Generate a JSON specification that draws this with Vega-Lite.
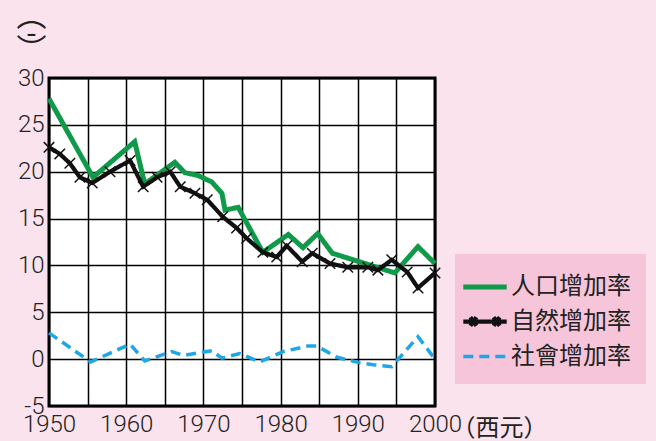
{
  "$schema": "https://vega.github.io/schema/vega-lite/v6.json",
  "width": 386,
  "height": 328,
  "autosize": "none",
  "padding": {"left": 49, "top": 78, "right": 221, "bottom": 35},
  "background": "#fae3ec",
  "config": {
    "view": {"stroke": "black", "strokeWidth": 3, "fill": "white"},
    "font": "Roboto"
  },
  "datasets": {
    "rates": [
      {"year": 1950, "value": 27.8, "series": "人口增加率"},
      {"year": 1955.7, "value": 19.4, "series": "人口增加率"},
      {"year": 1961.1, "value": 23.2, "series": "人口增加率"},
      {"year": 1962.4, "value": 18.7, "series": "人口增加率"},
      {"year": 1966.3, "value": 21.0, "series": "人口增加率"},
      {"year": 1967.6, "value": 19.9, "series": "人口增加率"},
      {"year": 1969.3, "value": 19.6, "series": "人口增加率"},
      {"year": 1971.1, "value": 18.9, "series": "人口增加率"},
      {"year": 1972.4, "value": 17.7, "series": "人口增加率"},
      {"year": 1972.8, "value": 15.9, "series": "人口增加率"},
      {"year": 1974.5, "value": 16.2, "series": "人口增加率"},
      {"year": 1977.7, "value": 11.4, "series": "人口增加率"},
      {"year": 1981.0, "value": 13.3, "series": "人口增加率"},
      {"year": 1982.9, "value": 11.9, "series": "人口增加率"},
      {"year": 1984.8, "value": 13.4, "series": "人口增加率"},
      {"year": 1986.7, "value": 11.3, "series": "人口增加率"},
      {"year": 1994.8, "value": 9.2, "series": "人口增加率"},
      {"year": 1997.8, "value": 12.0, "series": "人口增加率"},
      {"year": 2000, "value": 10.2, "series": "人口增加率"},

      {"year": 1950, "value": 22.6, "series": "自然增加率"},
      {"year": 1951.4, "value": 21.9, "series": "自然增加率"},
      {"year": 1952.7, "value": 20.9, "series": "自然增加率"},
      {"year": 1954.0, "value": 19.4, "series": "自然增加率"},
      {"year": 1955.6, "value": 18.8, "series": "自然增加率"},
      {"year": 1957.9, "value": 20.0, "series": "自然增加率"},
      {"year": 1960.5, "value": 21.2, "series": "自然增加率"},
      {"year": 1962.2, "value": 18.4, "series": "自然增加率"},
      {"year": 1964.0, "value": 19.4, "series": "自然增加率"},
      {"year": 1965.7, "value": 20.0, "series": "自然增加率"},
      {"year": 1967.0, "value": 18.4, "series": "自然增加率"},
      {"year": 1968.9, "value": 17.7, "series": "自然增加率"},
      {"year": 1970.5, "value": 17.0, "series": "自然增加率"},
      {"year": 1972.5, "value": 15.2, "series": "自然增加率"},
      {"year": 1974.3, "value": 14.0, "series": "自然增加率"},
      {"year": 1975.6, "value": 12.9, "series": "自然增加率"},
      {"year": 1977.7, "value": 11.4, "series": "自然增加率"},
      {"year": 1979.5, "value": 10.9, "series": "自然增加率"},
      {"year": 1980.8, "value": 12.1, "series": "自然增加率"},
      {"year": 1982.8, "value": 10.4, "series": "自然增加率"},
      {"year": 1984.1, "value": 11.3, "series": "自然增加率"},
      {"year": 1986.4, "value": 10.2, "series": "自然增加率"},
      {"year": 1988.7, "value": 9.8, "series": "自然增加率"},
      {"year": 1991.3, "value": 9.8, "series": "自然增加率"},
      {"year": 1992.6, "value": 9.5, "series": "自然增加率"},
      {"year": 1994.4, "value": 10.6, "series": "自然增加率"},
      {"year": 1996.4, "value": 9.3, "series": "自然增加率"},
      {"year": 1997.8, "value": 7.6, "series": "自然增加率"},
      {"year": 2000, "value": 9.2, "series": "自然增加率"},

      {"year": 1950, "value": 2.8, "series": "社會增加率"},
      {"year": 1955.4, "value": -0.3, "series": "社會增加率"},
      {"year": 1960.5, "value": 1.6, "series": "社會增加率"},
      {"year": 1962.4, "value": -0.2, "series": "社會增加率"},
      {"year": 1965.9, "value": 0.8, "series": "社會增加率"},
      {"year": 1967.4, "value": 0.4, "series": "社會增加率"},
      {"year": 1971.1, "value": 0.9, "series": "社會增加率"},
      {"year": 1972.4, "value": 0.1, "series": "社會增加率"},
      {"year": 1974.7, "value": 0.6, "series": "社會增加率"},
      {"year": 1977.3, "value": -0.3, "series": "社會增加率"},
      {"year": 1980.3, "value": 0.8, "series": "社會增加率"},
      {"year": 1983.5, "value": 1.4, "series": "社會增加率"},
      {"year": 1984.7, "value": 1.4, "series": "社會增加率"},
      {"year": 1987.3, "value": 0.2, "series": "社會增加率"},
      {"year": 1990.3, "value": -0.4, "series": "社會增加率"},
      {"year": 1992.0, "value": -0.6, "series": "社會增加率"},
      {"year": 1994.4, "value": -0.8, "series": "社會增加率"},
      {"year": 1997.8, "value": 2.4, "series": "社會增加率"},
      {"year": 2000, "value": 0.0, "series": "社會增加率"}
    ]
  },
  "data": {"name": "rates"},
  "encoding": {
    "x": {
      "field": "year",
      "type": "quantitative",
      "scale": {"domain": [1950, 2000], "nice": false, "zero": false},
      "axis": {
        "values": [1950, 1955, 1960, 1965, 1970, 1975, 1980, 1985, 1990, 1995, 2000],
        "labelExpr": "datum.value % 10 == 0 ? '' + datum.value : ''",
        "grid": true,
        "gridColor": "black",
        "gridWidth": 1.5,
        "gridOpacity": 1,
        "domain": false,
        "ticks": false,
        "labelPadding": 6,
        "labelFontSize": 24,
        "labelFontWeight": 300,
        "labelColor": "#222",
        "labelFont": "Roboto",
        "labelFlush": false,
        "labelOverlap": false,
        "title": "（西元）",
        "titleFont": "Noto Sans CJK TC",
        "titleFontSize": 24,
        "titleFontWeight": "normal",
        "titleColor": "#222",
        "titleAlign": "left",
        "titleAnchor": null,
        "titleBaseline": "alphabetic",
        "titleX": 402,
        "titleY": 29
      }
    },
    "y": {
      "field": "value",
      "type": "quantitative",
      "scale": {"domain": [-5, 30], "nice": false},
      "axis": {
        "values": [-5, 0, 5, 10, 15, 20, 25, 30],
        "labelExpr": "'' + datum.value",
        "grid": true,
        "gridColor": "black",
        "gridWidth": 1.5,
        "gridOpacity": 1,
        "domain": false,
        "ticks": false,
        "labelPadding": 5,
        "labelFontSize": 24,
        "labelFontWeight": 300,
        "labelColor": "#222",
        "labelFont": "Roboto",
        "labelFlush": false,
        "labelOverlap": false,
        "title": ["︵", "-", "︶"],
        "titleFont": "Noto Sans CJK TC",
        "titleFontSize": 30,
        "titleFontWeight": "normal",
        "titleColor": "#222",
        "titleAngle": 0,
        "titleAlign": "center",
        "titleBaseline": "top",
        "titleLineHeight": 17,
        "titleX": -18,
        "titleY": -77
      }
    }
  },
  "layer": [
    {
      "mark": {"type": "line", "strokeJoin": "miter", "strokeCap": "butt"},
      "encoding": {
        "color": {
          "field": "series",
          "type": "nominal",
          "scale": {
            "domain": ["人口增加率", "自然增加率", "社會增加率"],
            "range": ["#0e9a48", "#111111", "#1ea6e6"]
          },
          "legend": {
            "title": null,
            "orient": "none",
            "legendX": 406,
            "legendY": 176,
            "fillColor": "#f6c5da",
            "padding": 15,
            "symbolType": "M-1.4,0H1.4",
            "symbolSize": 961,
            "symbolStrokeWidth": 5,
            "symbolOffset": -3,
            "labelFont": "Noto Sans CJK TC",
            "labelFontSize": 24,
            "labelColor": "#222",
            "labelOffset": 8,
            "labelLimit": 200,
            "rowPadding": 4.5,
            "encode": {
              "symbols": {
                "update": {
                  "shape": {"signal": "datum.value == '自然增加率' ? 'M-1.4,0H1.4M-0.95,-0.28L-0.55,0.28M-0.95,0.28L-0.55,-0.28M0.55,-0.28L0.95,0.28M0.55,0.28L0.95,-0.28' : 'M-1.4,0H1.4'"}
                }
              }
            }
          }
        },
        "strokeDash": {
          "field": "series",
          "type": "nominal",
          "scale": {
            "domain": ["人口增加率", "自然增加率", "社會增加率"],
            "range": [[1, 0], [1, 0], [10, 6]]
          },
          "legend": null
        },
        "strokeWidth": {
          "field": "series",
          "type": "nominal",
          "scale": {
            "domain": ["人口增加率", "自然增加率", "社會增加率"],
            "range": [5, 3.5, 6]
          },
          "legend": null
        }
      }
    },
    {
      "transform": [{"filter": "datum.series == '自然增加率'"}],
      "mark": {
        "type": "point",
        "shape": "M-1,-1L1,1M-1,1L1,-1",
        "filled": false,
        "stroke": "#111111",
        "strokeWidth": 1.5,
        "size": 110,
        "opacity": 1
      }
    }
  ]
}
